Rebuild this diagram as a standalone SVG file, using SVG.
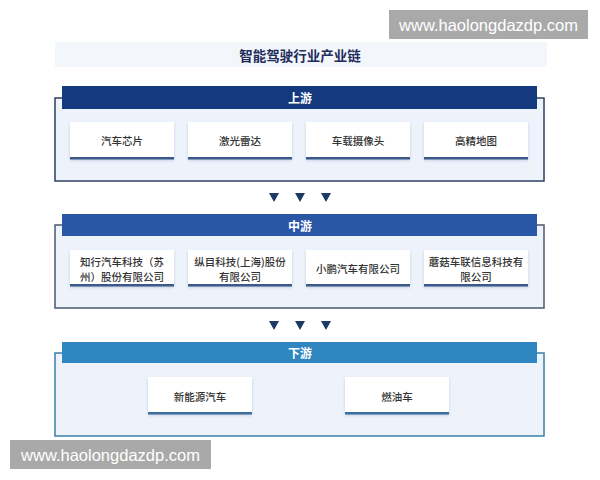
<svg xmlns="http://www.w3.org/2000/svg" width="600" height="480" viewBox="0 0 600 480">
<defs>
<filter id="sh" x="-10%" y="-20%" width="120%" height="150%">
<feDropShadow dx="0" dy="1.5" stdDeviation="1.5" flood-color="#6f86b0" flood-opacity="0.35"/>
</filter>
<style>
text{font-family:"Noto Sans CJK SC","Noto Sans",sans-serif;text-anchor:middle;dominant-baseline:central}
.title{font-size:13.5px;font-weight:bold;fill:#1f2d5c}
.hd{font-size:12px;font-weight:bold;fill:#ffffff}
.nt{font-size:10.5px;fill:#333333;font-weight:500}
.node{fill:#ffffff;filter:url(#sh)}
.arr{fill:#1d3966}
.wm{fill:#a9a9a9}
.wmt{font-family:"Liberation Sans",Arial,sans-serif;font-size:16.5px;fill:#ffffff}
</style>
</defs>
<rect width="600" height="480" fill="#ffffff"/>
<g id="title">
<rect x="55" y="42" width="492" height="25" fill="#f3f6fb"/>
<text class="title" x="300" y="55">智能驾驶行业产业链</text>
</g>
<g id="upstream">
<rect x="55" y="98" width="489" height="83" fill="#eef3fb" stroke="#2b3f5c" stroke-width="1.5"/>
<rect x="62" y="86" width="475" height="23" fill="#14397f"/>
<text class="hd" x="300" y="97.5">上游</text>
</g>
<g id="u1"><rect class="node" x="70" y="122" width="104" height="37"/><rect x="70" y="157" width="104" height="2.5" fill="#3b5a8a"/><text class="nt" x="122" y="140">汽车芯片</text></g>
<g id="u2"><rect class="node" x="188" y="122" width="104" height="37"/><rect x="188" y="157" width="104" height="2.5" fill="#3b5a8a"/><text class="nt" x="240" y="140">激光雷达</text></g>
<g id="u3"><rect class="node" x="306" y="122" width="104" height="37"/><rect x="306" y="157" width="104" height="2.5" fill="#3b5a8a"/><text class="nt" x="358" y="140">车载摄像头</text></g>
<g id="u4"><rect class="node" x="424" y="122" width="104" height="37"/><rect x="424" y="157" width="104" height="2.5" fill="#3b5a8a"/><text class="nt" x="476" y="140">高精地图</text></g>
<g id="connectors">
<polygon class="arr" points="269,193 279,193 274,202"/>
<polygon class="arr" points="295,193 305,193 300,202"/>
<polygon class="arr" points="321,193 331,193 326,202"/>
<polygon class="arr" points="269,321 279,321 274,330"/>
<polygon class="arr" points="295,321 305,321 300,330"/>
<polygon class="arr" points="321,321 331,321 326,330"/>
</g>
<g id="midstream">
<rect x="55" y="225" width="489" height="83" fill="#eef3fb" stroke="#4a5a70" stroke-width="1.5"/>
<rect x="62" y="214" width="475" height="22" fill="#2a56a6"/>
<text class="hd" x="300" y="225">中游</text>
</g>
<g id="m1"><rect class="node" x="70" y="250" width="104" height="36"/><rect x="70" y="284" width="104" height="2.5" fill="#3b5a8a"/><text class="nt" x="122" y="261">知行汽车科技（苏</text><text class="nt" x="122" y="276">州）股份有限公司</text></g>
<g id="m2"><rect class="node" x="188" y="250" width="104" height="36"/><rect x="188" y="284" width="104" height="2.5" fill="#3b5a8a"/><text class="nt" x="240" y="261">纵目科技(上海)股份</text><text class="nt" x="240" y="276">有限公司</text></g>
<g id="m3"><rect class="node" x="306" y="250" width="104" height="36"/><rect x="306" y="284" width="104" height="2.5" fill="#3b5a8a"/><text class="nt" x="358" y="268">小鹏汽车有限公司</text></g>
<g id="m4"><rect class="node" x="424" y="250" width="104" height="36"/><rect x="424" y="284" width="104" height="2.5" fill="#3b5a8a"/><text class="nt" x="476" y="261">蘑菇车联信息科技有</text><text class="nt" x="476" y="276">限公司</text></g>
<g id="downstream">
<rect x="55" y="353" width="489" height="83" fill="#eef3fb" stroke="#3a7fa8" stroke-width="1.5"/>
<rect x="62" y="342" width="475" height="21" fill="#2f86c0"/>
<text class="hd" x="300" y="352.5">下游</text>
</g>
<g id="d1"><rect class="node" x="148" y="377" width="104" height="37"/><rect x="148" y="412" width="104" height="2.5" fill="#3a6e9e"/><text class="nt" x="200" y="396">新能源汽车</text></g>
<g id="d2"><rect class="node" x="345" y="377" width="104" height="37"/><rect x="345" y="412" width="104" height="2.5" fill="#3a6e9e"/><text class="nt" x="397" y="396">燃油车</text></g>
<g id="watermark-top"><rect class="wm" x="389" y="10" width="199" height="29"/><text class="wmt" x="488.5" y="24.5">www.haolongdazdp.com</text></g>
<g id="watermark-bottom"><rect class="wm" x="10" y="440" width="201" height="29"/><text class="wmt" x="110.5" y="454.5">www.haolongdazdp.com</text></g>
</svg>
